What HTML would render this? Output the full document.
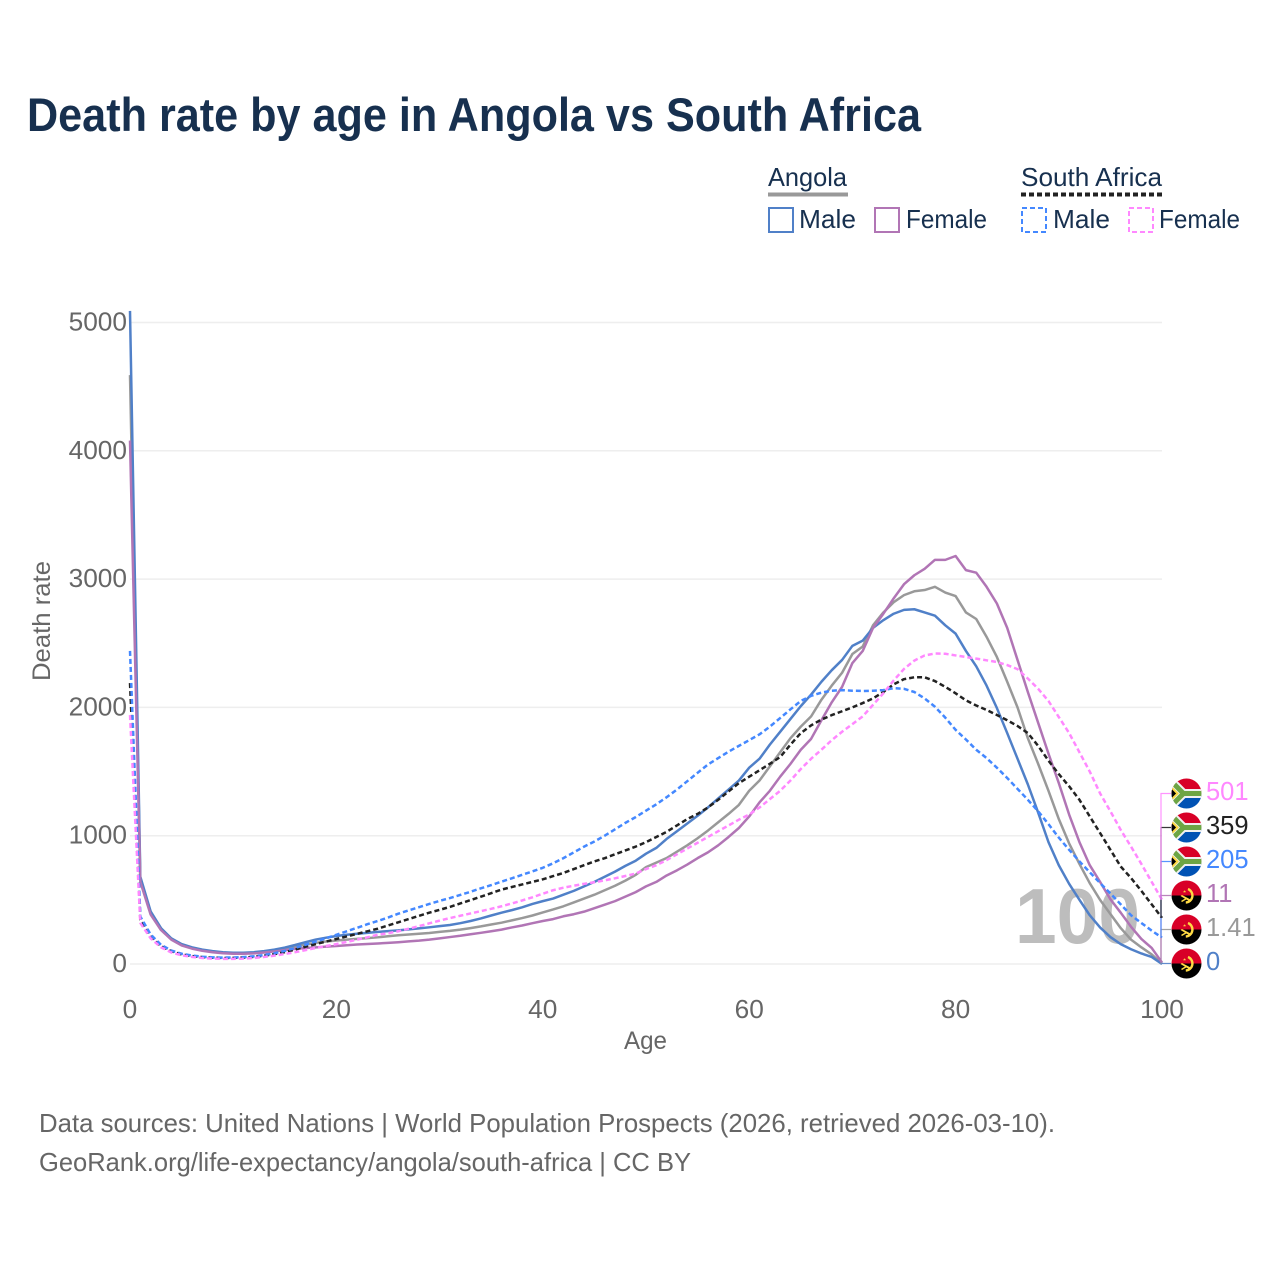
<!DOCTYPE html>
<html lang="en">
<head>
<meta charset="utf-8">
<title>Death rate by age in Angola vs South Africa</title>
<style>
html,body{margin:0;padding:0;background:#fff;width:1280px;height:1280px;overflow:hidden}
svg{display:block}
text{font-family:"Liberation Sans",sans-serif}
.tick{fill:#666;font-size:25.500px}
.leg{fill:#17304f;font-size:26px}
.foot{fill:#666;font-size:26px}
</style>
</head>
<body>
<svg id="chart" width="1280" height="1280" viewBox="0 0 1280 1280" xmlns="http://www.w3.org/2000/svg">
  <defs>
    <clipPath id="flag-clip"><circle cx="0" cy="0" r="15"/></clipPath>
    <g id="flag-sa" clip-path="url(#flag-clip)">
      <rect x="-16" y="-16" width="32" height="16" fill="#d80027"/>
      <rect x="-16" y="0" width="32" height="16" fill="#0052b4"/>
      <path d="M-18,-15 L-3,0 L16,0 L-3,0 L-18,15" fill="none" stroke="#f0f0f0" stroke-width="9"/>
      <path d="M-18,-15 L-3,0 L16,0 L-3,0 L-18,15" fill="none" stroke="#6da544" stroke-width="5"/>
      <polygon points="-17,-8 -9,0 -17,8" fill="#000" stroke="#ffda44" stroke-width="2"/>
    </g>
    <g id="flag-ao" clip-path="url(#flag-clip)">
      <rect x="-16" y="-16" width="32" height="16" fill="#d80027"/>
      <rect x="-16" y="0" width="32" height="16" fill="#000"/>
      <path d="M1.500,-6.500 A7,7 0 0 1 -0.700,7" fill="none" stroke="#ffda44" stroke-width="2.400"/>
      <path d="M-6,0.500 L-4.500,-0.500 L5,4.500 L4,6.500 Z" fill="#ffda44"/>
      <path d="M-5,6 L0,3" fill="none" stroke="#ffda44" stroke-width="1.500"/>
      <polygon points="-1.700,-5.500 -0.800,-3 -3.800,-4.400 -0.500,-4.400 -3,-2.500" fill="#ffda44"/>
    </g>
  </defs>

  <text x="27" y="131" font-size="47" font-weight="700" fill="#17304f" textLength="894" lengthAdjust="spacingAndGlyphs">Death rate by age in Angola vs South Africa</text>

  <g>
    <text class="leg" x="768" y="186" textLength="79" lengthAdjust="spacingAndGlyphs">Angola</text>
    <line x1="768" x2="848" y1="194.500" y2="194.500" stroke="#999" stroke-width="4"/>
    <rect x="769" y="208" width="24" height="24" fill="none" stroke="#5080c8" stroke-width="2"/>
    <text class="leg" x="799" y="228" textLength="57" lengthAdjust="spacingAndGlyphs">Male</text>
    <rect x="875" y="208" width="24" height="24" fill="none" stroke="#b175b5" stroke-width="2"/>
    <text class="leg" x="906" y="228" textLength="81" lengthAdjust="spacingAndGlyphs">Female</text>

    <text class="leg" x="1021" y="186" textLength="141" lengthAdjust="spacingAndGlyphs">South Africa</text>
    <line x1="1021" x2="1162" y1="194.500" y2="194.500" stroke="#222" stroke-width="4" stroke-dasharray="5,3"/>
    <rect x="1022" y="208" width="24" height="24" fill="none" stroke="#4488ff" stroke-width="2" stroke-dasharray="5,3"/>
    <text class="leg" x="1053" y="228" textLength="57" lengthAdjust="spacingAndGlyphs">Male</text>
    <rect x="1129" y="208" width="24" height="24" fill="none" stroke="#ff88ff" stroke-width="2" stroke-dasharray="5,3"/>
    <text class="leg" x="1159" y="228" textLength="81" lengthAdjust="spacingAndGlyphs">Female</text>
  </g>

  <g id="grid"></g>
  <text x="1015" y="943" font-size="78" font-weight="700" fill="#bdbdbd" textLength="125" lengthAdjust="spacingAndGlyphs">100</text>
  <g id="y-ticks"></g>
  <g id="x-ticks"></g>
  <text x="0" y="0" transform="translate(50 681) rotate(-90)" font-size="25" fill="#666" textLength="120" lengthAdjust="spacingAndGlyphs">Death rate</text>
  <text x="624" y="1049" font-size="25" fill="#666" textLength="43" lengthAdjust="spacingAndGlyphs">Age</text>
  <g id="series"></g>
  <g id="end-labels"></g>

  <text class="foot" x="39" y="1132" textLength="1016" lengthAdjust="spacingAndGlyphs">Data sources: United Nations | World Population Prospects (2026, retrieved 2026-03-10).</text>
  <text class="foot" x="39" y="1171" textLength="652" lengthAdjust="spacingAndGlyphs">GeoRank.org/life-expectancy/angola/south-africa | CC BY</text>
</svg>
<script>
var ages = [0,1,2,3,4,5,6,7,8,9,10,11,12,13,14,15,16,17,18,19,20,21,22,23,24,25,26,27,28,29,30,31,32,33,34,35,36,37,38,39,40,41,42,43,44,45,46,47,48,49,50,51,52,53,54,55,56,57,58,59,60,61,62,63,64,65,66,67,68,69,70,71,72,73,74,75,76,77,78,79,80,81,82,83,84,85,86,87,88,89,90,91,92,93,94,95,96,97,98,99,100];
var xTickLabels = [0,20,40,60,80,100];
var yTickLabels = [0,1000,2000,3000,4000,5000];
var angolaBoth = [4590,660,400,275,195,150,125,108,96,88,84,84,87,94,105,118,135,150,165,175,183,190,196,202,208,216,224,230,236,242,250,258,268,280,293,308,322,340,358,378,402,425,450,480,510,540,575,610,650,695,755,790,826,875,925,980,1040,1105,1170,1240,1350,1430,1540,1650,1760,1850,1930,2060,2170,2270,2416,2475,2640,2740,2820,2875,2905,2915,2940,2895,2868,2740,2689,2550,2393,2200,2000,1760,1560,1350,1130,940,780,630,500,390,280,190,130,75,1.41];
var angolaMale = [5090,680,410,280,200,155,130,112,100,92,88,88,92,100,112,128,148,170,190,205,218,228,236,243,250,256,262,270,278,286,295,304,318,335,355,378,400,420,442,468,490,510,540,570,605,640,680,720,765,805,860,905,975,1035,1095,1155,1220,1290,1360,1430,1530,1600,1710,1810,1910,2010,2100,2200,2290,2370,2480,2520,2620,2680,2730,2760,2765,2740,2715,2640,2575,2440,2320,2170,1995,1800,1600,1400,1180,950,770,625,500,380,285,210,155,115,82,55,0];
var angolaFemale = [4080,640,385,265,190,145,120,103,92,84,80,80,83,90,98,108,118,125,130,135,140,146,152,156,160,165,170,176,182,190,200,210,220,232,243,255,268,285,300,318,335,350,372,388,408,435,462,490,525,560,605,640,690,730,775,825,870,925,990,1060,1150,1260,1350,1460,1560,1670,1755,1900,2040,2160,2346,2440,2620,2730,2850,2960,3030,3080,3150,3150,3180,3070,3050,2940,2810,2620,2370,2120,1880,1640,1410,1165,950,770,640,505,400,290,195,125,11];
var southAfricaBoth = [2190,345,215,140,100,75,62,54,49,47,48,50,56,65,77,92,112,135,155,175,195,215,235,255,275,300,325,350,375,400,422,445,472,498,525,552,580,600,620,640,660,685,710,740,770,800,825,855,885,915,950,990,1030,1080,1130,1170,1220,1280,1345,1410,1460,1510,1560,1613,1710,1800,1860,1905,1940,1970,2000,2034,2070,2120,2180,2220,2235,2235,2205,2160,2110,2055,2015,1980,1941,1900,1855,1800,1700,1585,1480,1385,1280,1150,1021,890,760,670,570,465,359];
var southAfricaMale = [2440,370,230,150,105,80,66,57,52,50,51,54,60,70,84,102,125,150,175,200,228,255,282,310,335,362,392,418,443,468,492,514,538,563,590,615,642,668,695,722,750,785,825,870,915,955,1000,1050,1100,1145,1195,1245,1300,1360,1425,1490,1555,1605,1655,1700,1745,1790,1850,1917,1985,2050,2090,2115,2130,2135,2130,2128,2130,2135,2150,2145,2120,2070,2005,1920,1825,1750,1670,1605,1530,1450,1365,1280,1190,1090,985,890,800,715,631,550,465,380,320,260,205];
var southAfricaFemale = [1940,320,200,130,90,68,55,47,42,40,40,42,47,55,65,78,92,108,125,140,155,172,190,208,228,240,255,275,295,317,338,358,376,394,412,430,450,472,495,520,548,575,595,610,625,637,652,668,686,705,740,770,810,855,900,945,990,1035,1080,1125,1165,1220,1285,1350,1430,1520,1600,1670,1745,1810,1870,1930,2020,2110,2210,2300,2365,2405,2420,2418,2405,2393,2380,2367,2354,2330,2298,2225,2145,2050,1925,1800,1650,1500,1330,1190,1045,915,780,640,501];

var SVGNS = 'http://www.w3.org/2000/svg';
function xScale(a) { return 130 + (a / 100) * 1032; }
function yScale(v) { return 964 - (v / 5000) * 641.5; }
function make(tag, attrs, parent) {
  var el = document.createElementNS(SVGNS, tag);
  for (var k in attrs) { el.setAttribute(k, attrs[k]); }
  parent.appendChild(el);
  return el;
}

var gridGroup = document.getElementById('grid');
var yTickGroup = document.getElementById('y-ticks');
yTickLabels.forEach(function (v) {
  var line = make('line', {x1: 130, x2: 1162, y1: yScale(v), y2: yScale(v), stroke: '#eeeeee', 'stroke-width': 1.5}, gridGroup);
  
  
  var label = make('text', {x: 127, y: yScale(v) + 8, 'text-anchor': 'end', 'class': 'tick', textLength: String(v).length * 14.6, lengthAdjust: 'spacingAndGlyphs'}, yTickGroup);
  label.textContent = v;
  
  
});

var xTickGroup = document.getElementById('x-ticks');
xTickLabels.forEach(function (a) {
  var label = make('text', {x: xScale(a), y: 1018, 'text-anchor': 'middle', 'class': 'tick', textLength: String(a).length * 14.6, lengthAdjust: 'spacingAndGlyphs'}, xTickGroup);
  label.textContent = a;
  
  
});

var seriesList = [
  {name: 'angola-both', values: angolaBoth, color: '#999999', dash: null, flag: 'ao', labelColor: '#999999'},
  {name: 'angola-male', values: angolaMale, color: '#5080c8', dash: null, flag: 'ao', labelColor: '#5080c8'},
  {name: 'angola-female', values: angolaFemale, color: '#b175b5', dash: null, flag: 'ao', labelColor: '#b175b5'},
  {name: 'south-africa-both', values: southAfricaBoth, color: '#222222', dash: '5,3', flag: 'sa', labelColor: '#222222'},
  {name: 'south-africa-male', values: southAfricaMale, color: '#4488ff', dash: '5,3', flag: 'sa', labelColor: '#4488ff'},
  {name: 'south-africa-female', values: southAfricaFemale, color: '#ff88ff', dash: '5,3', flag: 'sa', labelColor: '#ff88ff'}
];

var seriesGroup = document.getElementById('series');
seriesList.forEach(function (s) {
  var d = s.values.map(function (v, i) {
    return (i ? 'L' : 'M') + xScale(ages[i]).toFixed(2) + ',' + yScale(v).toFixed(2);
  }).join(' ');
  var path = make('path', {d: d, fill: 'none', stroke: s.color, 'stroke-width': 2.5, 'stroke-linejoin': 'round'}, seriesGroup);
  if (s.dash) { path.setAttribute('stroke-dasharray', s.dash); }
  
  
});

var endGroup = document.getElementById('end-labels');
var ordered = seriesList.slice().sort(function (a, b) {
  return a.values[a.values.length - 1] - b.values[b.values.length - 1];
});
ordered.forEach(function (s, i) {
  var slotY = 963.5 - i * 34;
  var last = s.values[s.values.length - 1];
  var conn = make('path', {d: 'M1161,' + yScale(last).toFixed(2) + ' V' + slotY + ' H1171', fill: 'none', stroke: s.color, 'stroke-width': 1.2, opacity: 0.9}, endGroup);
  
  
  var flag = make('use', {href: s.flag === 'sa' ? '#flag-sa' : '#flag-ao', transform: 'translate(1186.500 ' + slotY + ')'}, endGroup);
  
  
  var txt = String(last);
  var label = make('text', {x: 1206, y: slotY + 6.5, 'font-size': 25.5, fill: s.labelColor}, endGroup);
  label.textContent = txt;
  
  
});
</script>
</body>
</html>
